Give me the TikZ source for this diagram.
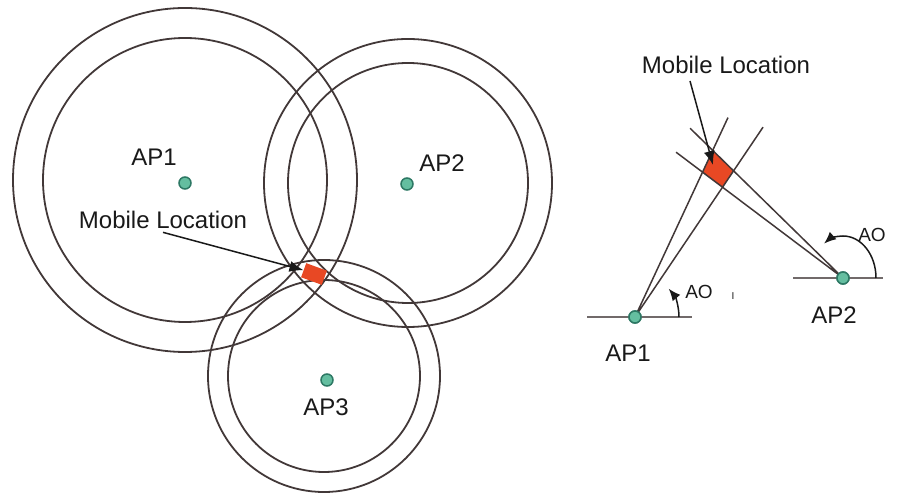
\documentclass[tikz,border=0pt]{standalone}
\usepackage{fontspec}
\setmainfont{Liberation Sans}
\usetikzlibrary{arrows.meta,intersections}
\definecolor{ringgray}{RGB}{66,56,56}
\definecolor{apgreen}{RGB}{100,190,160}
\definecolor{apedge}{RGB}{45,120,100}
\definecolor{locred}{RGB}{232,72,36}
\begin{document}
\begin{tikzpicture}[x=1pt,y=1pt,
    every node/.style={font=\fontsize{24}{28}\selectfont,text=black!90},
    ring/.style={ringgray,line width=1.8pt},
    apdot/.style={circle,fill=apgreen,draw=apedge,line width=1.5pt,inner sep=0pt,minimum size=12pt},
    ray/.style={ringgray,line width=1.5pt},
    base/.style={ringgray!75,line width=2pt},
    pointer/.style={black!90,line width=1.5pt,-{Latex[length=14pt,width=11pt]}},
    anglebow/.style={black!90,line width=1.5pt,-{Latex[length=12pt,width=10pt]}},
    small/.style={font=\fontsize{19}{22}\selectfont}]
    \useasboundingbox (0,0) rectangle (906,495);
    \draw[ring] (185,315) circle[radius=172] (185,315) circle[radius=142];
    \draw[ring] (408,312) circle[radius=144] (408,312) circle[radius=120];
    \draw[ring] (324,119) circle[radius=116] (324,119) circle[radius=96];
    \node[apdot] (ap1) at (185,312) {};
    \node[apdot] (ap2) at (407,311) {};
    \node[apdot] (ap3) at (327,115) {};
    \node (lab1) at (154,338) {AP1};
    \node (lab2) at (442,332) {AP2};
    \node (lab3) at (326,88) {AP3};
    \node[fill=locred,rotate=-20,minimum width=22pt,minimum height=15pt,inner sep=0pt] (loc) at (314,221) {};
    \node (ml1) at (163,275) {Mobile Location};
    \draw[pointer] (ml1.south) -- (loc.west);

    \node[apdot] (ap1r) at (635,178) {};
    \node[apdot] (ap2r) at (843,217) {};
    \path[name path=a1] (ap1r.center) -- ++(65:220);
    \path[name path=a2] (ap1r.center) -- ++(56:229);
    \path[name path=b1] (ap2r.center) -- ++(135.6:214);
    \path[name path=b2] (ap2r.center) -- ++(143:209);
    \path[name intersections={of=a1 and b1,by=q1}];
    \path[name intersections={of=a1 and b2,by=q2}];
    \path[name intersections={of=a2 and b1,by=q3}];
    \path[name intersections={of=a2 and b2,by=q4}];
    \fill[locred] (q2) -- (q1) -- (q3) -- (q4) -- cycle;
    \draw[base] (587,178) -- (692,178);
    \draw[base] (793,217) -- (883,217);
    \draw[ray] (ap1r.center) -- ++(65:220) (ap1r.center) -- ++(56:229);
    \draw[ray] (ap2r.center) -- ++(135.6:214) (ap2r.center) -- ++(143:209);
    \draw[anglebow] (ap1r.center) ++(44,0) arc[start angle=0,end angle=40,radius=44];
    \draw[anglebow] (ap2r.center) ++(33,0) arc[start angle=0,end angle=125,x radius=33,y radius=42];
    \node[apdot] at (ap1r) {};
    \node[apdot] at (ap2r) {};
    \node (lab1r) at (628,142) {AP1};
    \node (lab2r) at (834,180) {AP2};
    \node[small] (ao1) at (699,203) {AO};
    \node[font=\fontsize{10}{12}\selectfont] (ao1i) at (733,199) {I};
    \node[small] (ao2) at (872,260) {AO};
    \node (ml2) at (726,430) {Mobile Location};
    \coordinate (mt) at (690,414);
    \coordinate (tip) at (713,330);
    \draw[pointer] (mt) -- (tip);
\end{tikzpicture}
\end{document}
